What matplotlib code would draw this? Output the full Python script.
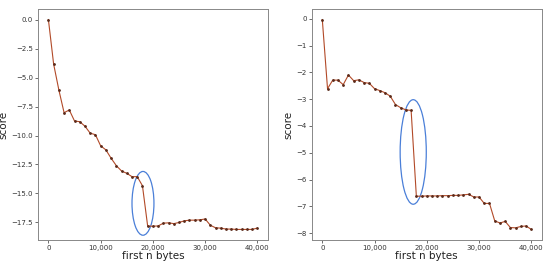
import matplotlib
matplotlib.use('Agg')
import matplotlib.pyplot as plt
from matplotlib.patches import Ellipse
from matplotlib.ticker import FuncFormatter

# left panel
left_x = list(range(0, 41000, 1000))
left_y = [0.0, -3.84, -6.07, -8.03, -7.80, -8.75, -8.81, -9.2, -9.8, -9.93,
          -10.89, -11.24, -11.96, -12.6, -13.06, -13.26, -13.55, -13.55, -14.33,
          -17.82, -17.82, -17.8, -17.56, -17.53, -17.6, -17.5, -17.36, -17.3,
          -17.3, -17.27, -17.2, -17.74, -17.96, -17.99, -18.07, -18.07, -18.1,
          -18.1, -18.1, -18.1, -17.98]

# right panel
right_x = list(range(0, 41000, 1000))
right_y = [-0.03, -2.61, -2.29, -2.29, -2.46, -2.10, -2.31, -2.28, -2.38, -2.41,
           -2.61, -2.68, -2.76, -2.89, -3.20, -3.32, -3.40, -3.42, -6.62, -6.62,
           -6.61, -6.61, -6.61, -6.60, -6.60, -6.59, -6.59, -6.57, -6.55, -6.65,
           -6.65, -6.89, -6.89, -7.54, -7.62, -7.56, -7.79, -7.80, -7.75, -7.73,
           -7.86]

line_color = '#b24a28'
marker_color = '#5a2a1a'
circle_color = '#4a7fd8'

fig = plt.figure(figsize=(5.5, 2.66), dpi=100)
ax1 = fig.add_axes([0.069, 0.098, 0.418, 0.868])
ax2 = fig.add_axes([0.567, 0.098, 0.418, 0.868])

comma = FuncFormatter(lambda v, p: f'{int(v):,}')

for ax, xs, ys in [(ax1, left_x, left_y), (ax2, right_x, right_y)]:
    ax.plot(xs, ys, color=line_color, linewidth=0.8, marker='o',
            markersize=1.0, markerfacecolor=marker_color, markeredgecolor=marker_color)
    ax.set_xticks([0, 10000, 20000, 30000, 40000])
    ax.xaxis.set_major_formatter(comma)
    ax.tick_params(labelsize=5, length=2, width=0.5, colors='#333333', pad=1.5)
    for s in ax.spines.values():
        s.set_color('#888888')
        s.set_linewidth(0.7)
    ax.set_xlabel('first n bytes', fontsize=7.5, labelpad=0.5, color='#222222')
    ax.set_ylabel('score', fontsize=7.5, labelpad=2, color='#222222')

ax2.set_yticks([0, -1, -2, -3, -4, -5, -6, -7, -8])

ax1.add_patch(Ellipse((18100, -15.85), 4200, 5.5, fill=False,
                      edgecolor=circle_color, linewidth=0.9))
ax2.add_patch(Ellipse((17400, -4.97), 5000, 3.9, fill=False,
                      edgecolor=circle_color, linewidth=0.9))

plt.savefig('out.png', dpi=100)
